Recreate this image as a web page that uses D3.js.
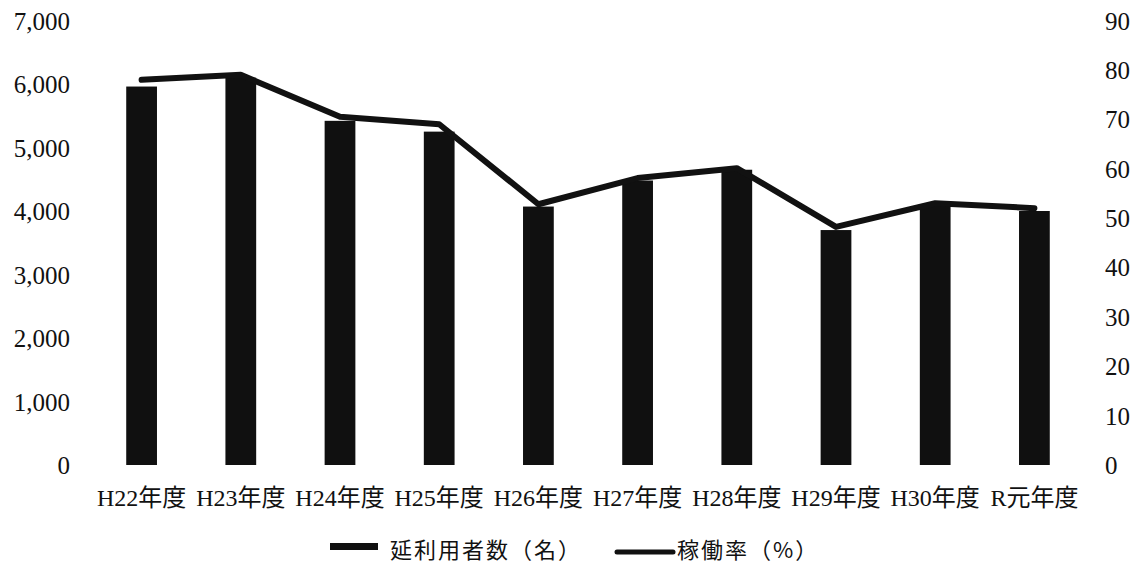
<!DOCTYPE html>
<html>
<head>
<meta charset="utf-8">
<script src="https://cdn.jsdelivr.net/npm/d3@7"></script>
<style>
  html, body { margin: 0; padding: 0; background: #fff; }
  svg { display: block; }
  .num { font-family: "Liberation Serif", "DejaVu Serif", "Noto Sans CJK JP", serif; fill: #111; }
  .legend { font-family: "Noto Sans CJK JP", sans-serif; fill: #111; letter-spacing: 2px; }
</style>
</head>
<body>
<svg id="chart" width="1139" height="566"></svg>
<script>
// Fiscal years
const categories = ["H22年度", "H23年度", "H24年度", "H25年度", "H26年度", "H27年度", "H28年度", "H29年度", "H30年度", "R元年度"];
// Total users (persons), left axis
const users = [5960, 6100, 5420, 5250, 4070, 4480, 4650, 3700, 4090, 4000];
// Utilization rate (%), right axis
const rate = [78.0, 79.0, 70.5, 69.0, 52.8, 58.1, 60.1, 48.2, 53.0, 52.0];
// Axis ticks
const leftTicks = [0, 1000, 2000, 3000, 4000, 5000, 6000, 7000];
const rightTicks = [0, 10, 20, 30, 40, 50, 60, 70, 80, 90];
const legendLabels = ["延利用者数（名）", "稼働率（%）"];

const svg = d3.select("#chart");
const ink = "#111";

const x = d3.scaleBand().domain(categories).range([92, 1084]).paddingInner(0.69).paddingOuter(0.345);
const yL = d3.scaleLinear().domain([0, 7000]).range([465, 20.5]);
const yR = d3.scaleLinear().domain([0, 90]).range([465, 20.5]);

// Bars
svg.append("g").selectAll("rect").data(users).join("rect")
  .attr("x", (d, i) => x(categories[i]))
  .attr("y", d => yL(d))
  .attr("width", x.bandwidth())
  .attr("height", d => yL(0) - yL(d))
  .attr("fill", "#101010");

// Rate line
const line = d3.line()
  .x((d, i) => x(categories[i]) + x.bandwidth() / 2)
  .y(d => yR(d));
svg.append("path").datum(rate)
  .attr("d", line)
  .attr("fill", "none")
  .attr("stroke", ink)
  .attr("stroke-width", 6)
  .attr("stroke-linejoin", "round")
  .attr("stroke-linecap", "round");

// Left axis
const gL = svg.append("g").attr("transform", "translate(70,0)")
  .call(d3.axisLeft(yL).tickValues(leftTicks).tickFormat(d3.format(",")).tickSize(0).tickPadding(0));
gL.select(".domain").remove();
gL.selectAll("text").attr("class", "num").attr("font-size", 25).attr("dy", "0.34em");

// Right axis
const gR = svg.append("g").attr("transform", "translate(1105,0)")
  .call(d3.axisRight(yR).tickValues(rightTicks).tickSize(0).tickPadding(0));
gR.select(".domain").remove();
gR.selectAll("text").attr("class", "num").attr("font-size", 25).attr("dy", "0.34em");

// Category axis
const gB = svg.append("g").attr("transform", "translate(0,465)")
  .call(d3.axisBottom(x).tickSize(0).tickPadding(0));
gB.select(".domain").remove();
gB.selectAll("text").attr("class", "num").attr("font-size", 24).attr("y", 33).attr("dy", "0.34em");

// Legend
const lg = svg.append("g");
lg.append("rect").attr("x", 330).attr("y", 543).attr("width", 48).attr("height", 7).attr("fill", "#101010");
lg.append("text").attr("class", "legend").attr("x", 390).attr("y", 550).attr("dy", "0.36em")
  .attr("font-size", 22).text(legendLabels[0]);
lg.append("line").attr("x1", 617).attr("x2", 673).attr("y1", 552).attr("y2", 552)
  .attr("stroke", ink).attr("stroke-width", 5).attr("stroke-linecap", "round");
lg.append("text").attr("class", "legend").attr("x", 677).attr("y", 550).attr("dy", "0.36em")
  .attr("font-size", 22).text(legendLabels[1]);
</script>
</body>
</html>
